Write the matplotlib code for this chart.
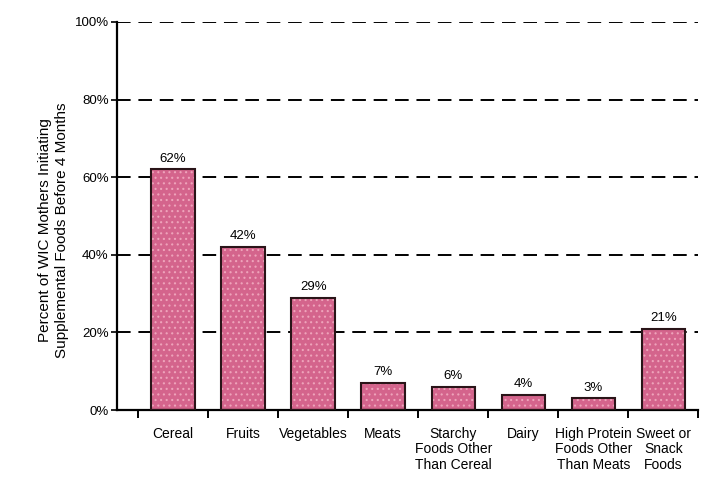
import numpy as np
import matplotlib
matplotlib.use('Agg')
import matplotlib.pyplot as plt

plt.rcParams['font.family'] = ['Liberation Sans', 'DejaVu Sans']

# dados
categorias = ['Cereal', 'Fruits', 'Vegetables', 'Meats',
              'Starchy\nFoods Other\nThan Cereal', 'Dairy',
              'High Protein\nFoods Other\nThan Meats', 'Sweet or\nSnack\nFoods']
valores = [62, 42, 29, 7, 6, 4, 3, 21]
yticks = [0, 20, 40, 60, 80, 100]
ytick_labels = ['0%', '20%', '40%', '60%', '80%', '100%']

fig = plt.figure(figsize=(7.14, 4.83), dpi=100)
ax = fig.add_axes([0.164, 0.151, 0.814, 0.8035])

x = np.arange(len(categorias))

# linhas tracejadas
for y in yticks[1:]:
    ax.axhline(y, color='black', lw=1.4, dashes=(7, 4), zorder=1)

# barras com textura pontilhada
plt.rcParams['hatch.color'] = '#eea3ba'
plt.rcParams['hatch.linewidth'] = 0.8
ax.bar(x, valores, width=0.62, color='#d4648c', hatch='...', lw=0, zorder=2)
ax.bar(x, valores, width=0.62, fill=False, edgecolor='#2a1418', lw=1.5, zorder=3)

for xi, v in zip(x, valores):
    ax.text(xi, v + 1.2, f'{v}%', ha='center', va='bottom', fontsize=9.5)

ax.set_xlim(-0.8, 7.5)
ax.set_ylim(0, 100)

ax.set_yticks(yticks)
ax.set_yticklabels(ytick_labels, fontsize=9.5)
ax.tick_params(axis='y', length=4, width=1.2, pad=2)

ax.set_xticks(np.arange(-0.5, 8, 1))
ax.set_xticklabels([])
ax.set_xticks(x, minor=True)
ax.set_xticklabels(categorias, minor=True, fontsize=10, linespacing=1.15)
ax.tick_params(axis='x', which='major', length=6, width=1.4)
ax.tick_params(axis='x', which='minor', length=0, pad=12)

for s in ['top', 'right']:
    ax.spines[s].set_visible(False)
for s in ['left', 'bottom']:
    ax.spines[s].set_linewidth(1.6)

ax.set_ylabel('Percent of WIC Mothers Initiating\nSupplemental Foods Before 4 Months',
              fontsize=11, linespacing=1.3)
ax.yaxis.set_label_coords(-0.083, 0.463)

plt.savefig('out.png', dpi=100)
